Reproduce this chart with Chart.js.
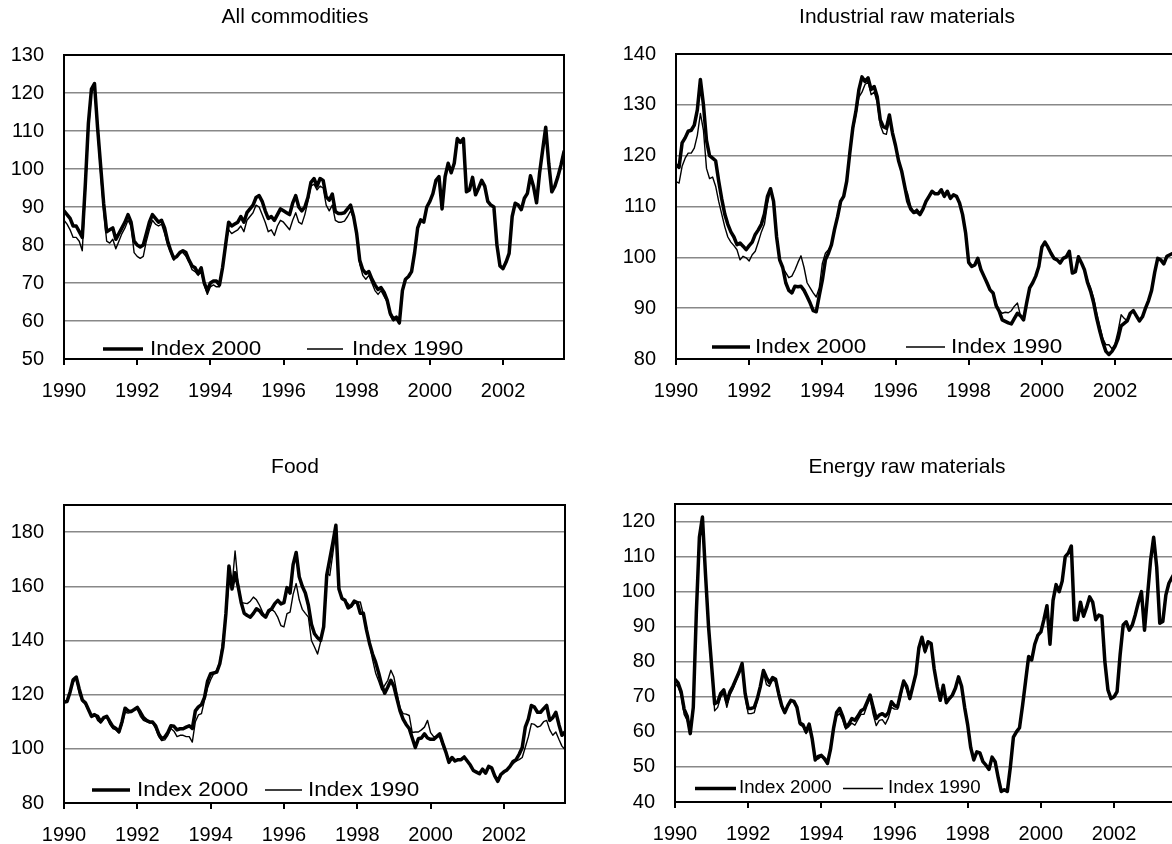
<!DOCTYPE html>
<html>
<head>
<meta charset="utf-8">
<script src="https://cdn.jsdelivr.net/npm/chart.js@4.4.1/dist/chart.umd.min.js"></script>
<style>
html,body{margin:0;padding:0;overflow:hidden;background:#fff;width:1172px;height:844px;}
canvas{position:absolute;}
</style>
</head>
<body>
<canvas id="c1" width="600" height="420" style="left:0px;top:0px"></canvas>
<canvas id="c2" width="640" height="420" style="left:590px;top:0px"></canvas>
<canvas id="c3" width="600" height="394" style="left:0px;top:450px"></canvas>
<canvas id="c4" width="640" height="394" style="left:590px;top:450px"></canvas>
<script>
// ---------- categories (monthly, Jan 1990 .. Sep 2003) ----------
const firstYear = 1990;
const monthCount = 165;
const months = Array.from({length: monthCount}, (_, i) => firstYear + i / 12);
const tickYears = [1990, 1992, 1994, 1996, 1998, 2000, 2002];
const tickLabels = ['1990', '1992', '1994', '1996', '1998', '2000', '2002'];
const seriesNames = ['Index 2000', 'Index 1990'];
const panelTitles = ['All commodities', 'Industrial raw materials', 'Food', 'Energy raw materials'];
const allTicksY = [50, 60, 70, 80, 90, 100, 110, 120, 130];
const industrialTicksY = [80, 90, 100, 110, 120, 130, 140];
const foodTicksY = [80, 100, 120, 140, 160, 180];
const energyTicksY = [40, 50, 60, 70, 80, 90, 100, 110, 120];

// ---------- All commodities ----------
const allIndex2000 = [
 89, 88, 87, 85, 85, 83.5, 82, 96, 112, 121, 122.5, 111,
 101, 91, 83.5, 84, 84.5, 81.5, 83, 84.5, 86, 88, 86, 81,
 80, 79.5, 80, 83, 86, 88, 87, 86, 86.5, 84.5, 81, 78.5,
 76.5, 77, 78, 78.5, 78, 76, 74.5, 74, 72.5, 74, 70, 68,
 70, 70.5, 70.5, 69.5, 74, 80, 86, 85, 85.5, 86, 87.5, 86,
 88.5, 89.5, 90.5, 92.5, 93, 91.5, 89, 87, 87.5, 86.5, 88, 89.5,
 89, 88.5, 88, 91, 93, 90, 89, 90, 92.5, 96.5, 97.5, 95.5,
 97.5, 97, 92.7, 91.8, 93.4, 88.8, 88.3, 88.3, 88.5, 89.5, 90.5, 87.5,
 83, 76, 73.5, 72.5, 73, 71, 69.5, 68.3, 68.8, 67.5, 65.5, 62,
 60.5, 61, 59.5, 68, 71, 71.7, 73, 78, 84.5, 86.6, 86, 90,
 91.5, 93.5, 97, 98, 89.5, 98, 101.5, 99, 101.5, 108, 107, 108,
 94, 94.5, 97.8, 93.2, 95, 97, 95.5, 91.5, 90.5, 90, 80, 74.5,
 73.8, 75.5, 77.8, 87.5, 91, 90.5, 89.3, 92.3, 93.6, 98.2, 95.4, 91.1,
 99, 105, 111, 101.5, 94, 95.5, 98, 101, 104.6
];
const allIndex1990 = [
 86.5, 85.5, 84, 82, 82, 81, 78.5, 94, 110, 120, 121.5, 110,
 99, 89, 81, 80.5, 81.5, 79, 81, 83, 84.5, 86.5, 85, 78,
 77, 76.5, 77, 81, 84, 86.5, 85.5, 85, 85.5, 83, 80, 78,
 76, 77, 78, 78, 77, 75.5, 73.5, 73, 72, 73, 69.5, 67,
 69, 69.5, 69, 69, 74, 80, 84, 83, 83.5, 84, 85, 83.5,
 86.5, 87.5, 88.5, 90.5, 90, 88, 86, 83.5, 84, 82.5, 85, 86.5,
 86, 85, 84, 86.5, 88.5, 86, 85.5, 88, 91.5, 95.5, 96, 94.5,
 95.5, 95, 90.5, 89, 90.5, 86.5, 86, 86, 86.3, 87.5, 89, 87,
 82.5, 75, 72, 71, 72, 70, 68, 67, 68, 66.5, 65, 61.5,
 60, 60.5, 59.3, 67.8, 70.8, 71.5, 72.8, 77.8, 84.3, 86.3, 86, 89.8,
 91.5, 93.5, 97, 98, 89.5, 98, 101.5, 99, 101.5, 108, 107, 108,
 94, 94.5, 97.8, 93.2, 95, 97, 95.5, 91.5, 90.5, 90, 80, 74.5,
 73.8, 75.5, 77.8, 87.5, 91, 90.5, 89.3, 92.3, 93.6, 98.2, 95.4, 91.1,
 99, 105, 111, 101.5, 94, 95.5, 98, 101, 104.6
];

// ---------- Industrial raw materials ----------
const industrialIndex2000 = [
 118.2, 117.7, 122.5, 123.5, 124.8, 125, 126, 129, 135, 130, 123, 120,
 119.5, 119, 115, 111.5, 108.5, 106.5, 105, 104, 102.5, 102.8, 102.2, 101.5,
 102.3, 103, 104.5, 105.4, 106.5, 108.5, 112, 113.5, 111, 104, 99.5, 98,
 95, 93.5, 93, 94.3, 94.2, 94.3, 93.5, 92.3, 91, 89.5, 89.3, 92.5,
 95.5, 99.5, 100.8, 102.5, 105.5, 108, 111, 112, 115, 120.5, 125.5, 128.7,
 133, 135.5, 134.6, 135.3, 133, 133.6, 131.6, 127, 125.7, 125.4, 128, 124.5,
 122, 119, 117, 114, 111, 109.5, 108.8, 109, 108.4, 109.5, 111, 112,
 113, 112.5, 112.5, 113.3, 112, 113, 111.6, 112.3, 112, 110.7, 108.4, 104.8,
 99, 98.2, 98.5, 99.8, 97.6, 96.3, 95, 93.6, 93, 90.5, 89.4, 87.7,
 87.4, 87.1, 86.9, 88, 89, 88.5, 87.7, 91, 94, 95, 96.3, 98.2,
 102, 103, 102, 100.8, 99.8, 99.5, 98.9, 99.8, 100.1, 101.2, 96.9, 97.2,
 100.1, 98.9, 97.5, 95, 93.3, 91, 88, 85.5, 83.3, 81.5, 80.9, 81.5,
 82.5, 84, 86.5, 87, 87.5, 89, 89.5, 88.5, 87.5, 88.3, 90, 91.5,
 93.5, 97, 99.8, 99.5, 98.7, 100.2, 100.5, 100.8, 101
];
const industrialIndex1990 = [
 114.9, 114.6, 117.9, 119.5, 120.5, 120.5, 121.5, 124, 128.3, 125, 117.5, 115.5,
 115.8, 114, 111, 108.5, 106, 104, 103, 102.3, 101.5, 99.5, 100.2, 99.9,
 99.3, 100.5, 101.2, 103, 105, 106.5, 110.5, 113.3, 111, 104, 99.5, 98,
 97, 96, 96.3, 97.5, 99, 100.3, 98, 95, 94, 93, 92.2, 94,
 98.8, 100.8, 101.5, 102.5, 105.5, 108, 111, 112, 115, 120.5, 125, 128,
 131.5, 132.5, 134, 134.5, 132, 132.5, 130.5, 126, 124.4, 124.2, 127, 124,
 122, 119, 117, 114, 112.5, 110, 109, 109.5, 108.8, 109.5, 111, 112,
 113, 112.5, 112.5, 113.3, 112, 113, 111.6, 112.3, 112, 110.7, 108.4, 104.8,
 99, 98.2, 98.5, 99.8, 97.6, 96.3, 95, 93.6, 93, 91, 89.6, 89,
 89.2, 89.1, 89.5, 90.4, 91, 88.5, 88.2, 91, 94, 95, 96.3, 98.2,
 102, 103, 102, 100.8, 99.8, 99.5, 98.9, 99.8, 100.1, 101.2, 96.9, 97.2,
 100.1, 98.9, 97.5, 95.5, 94, 92, 89, 86.5, 84, 82.8, 82.8, 82,
 83, 85.5, 88.7, 88, 87.5, 89, 89.5, 88.5, 87.5, 88.3, 90, 91.5,
 93.5, 97, 99.8, 99.5, 98.7, 100.2, 100.5, 100.8, 101
];

// ---------- Food ----------
const foodIndex2000 = [
 117.3, 117.5, 121, 125.5, 126.5, 122, 118, 117, 114.5, 112, 112.5, 112,
 110, 111.5, 112, 110, 108.2, 107.5, 106.3, 110, 115, 114, 113.8, 114.5,
 115.3, 113.5, 111.5, 110.5, 110, 109.9, 108.5, 105.5, 103.7, 104.4, 106, 108.5,
 108.3, 107, 107.4, 107.4, 108, 108.5, 107.5, 114, 115.5, 116.3, 119, 125,
 127.7, 128, 128.3, 131.4, 137.6, 149.9, 167.5, 159, 165, 160, 154, 150,
 149.2, 148.6, 150, 151.7, 151, 149.5, 148.6, 151, 151.7, 153.6, 154.8, 153.5,
 154, 159.5, 157.5, 168, 172.5, 163.5, 160, 157.5, 153, 146, 142.5, 141,
 140, 145, 164, 170, 176, 182.5, 159, 155.5, 154.8, 152, 152.7, 154.5,
 154, 150, 150, 144, 139, 135, 132, 128, 123.5, 120.5, 122.8, 125.3,
 123, 118.5, 114, 111, 109, 107.5, 104, 100.5, 103.7, 104, 105.5, 104,
 103.5, 103.5, 104.5, 105.5, 102, 98.8, 95, 96.8, 95.5, 96, 96, 97,
 95.5, 94, 92, 91.4, 90.8, 92.5, 91, 93.5, 93, 90, 88, 90.5,
 91.5, 92.2, 93.5, 95.3, 96, 98, 100.5, 108, 111, 116, 115.4, 113.5,
 113.5, 114.8, 116, 110.5, 111.5, 113.5, 109, 105, 106.2
];
const foodIndex1990 = [
 117, 117.3, 121, 124.5, 126, 120.5, 117.5, 116.5, 114, 112.5, 113, 110.5,
 109.5, 111, 112, 109, 107.5, 107, 105.8, 109, 113.5, 113.2, 113.5, 114.5,
 114.5, 112, 110.5, 110, 109.5, 109.5, 107.5, 104.5, 103, 103.3, 105, 107.5,
 106.5, 104.5, 105, 105, 104.5, 104.5, 102.5, 110, 112.5, 113, 118, 122.5,
 125.5, 127.7, 129, 132, 140, 150, 161, 160, 173, 161, 154, 153.8,
 153.6, 154.5, 156, 155, 153, 150.5, 148.6, 150.3, 151.5, 150.5, 148.5, 145.5,
 145, 149.9, 150.5, 157, 161, 155, 151.5, 150, 148.6, 140, 137.6, 135,
 139.5, 145, 165, 164, 172, 180.5, 160, 155.4, 154.5, 153.6, 152.3, 153.6,
 154.2, 154.2, 149.5, 145, 139, 133, 128, 125, 121.8, 123.5, 125.3, 129,
 126.5, 120.5, 115, 113, 112.8, 112.3, 106, 106.2, 106.2, 107, 108, 110.5,
 106, 104.5, 104.5, 104.4, 101, 98.8, 95, 96.8, 95.5, 96, 96, 97,
 95.5, 94, 92, 91.4, 90.8, 92.5, 91, 93.5, 93, 90, 88, 90.5,
 91.5, 92.2, 93.5, 94.5, 95.5, 96, 96.8, 100.6, 104.4, 109.3, 109, 108,
 108.5, 110, 110.5, 107, 105, 106.2, 103.5, 101, 99.7
];

// ---------- Energy raw materials ----------
const energyIndex2000 = [
 75, 74, 71.5, 66.5, 64.5, 59.5, 67, 94, 115.5, 121.3, 105, 90,
 79, 68, 68.5, 71, 72, 68.5, 71.4, 73, 75, 77, 79.5, 71,
 66.7, 66.7, 67, 69.5, 73, 77.5, 75.5, 74, 75.5, 75, 71, 67.5,
 65.5, 67.5, 69, 68.7, 67, 62.5, 62, 60, 62.2, 58, 52, 53,
 53.3, 52.4, 51, 55, 61, 65.5, 66.7, 64.5, 61.5, 62.2, 63.8, 63.3,
 64.5, 66, 66.5, 68.5, 70.5, 67, 63.8, 64.8, 65.2, 64.5, 65.5, 68.6,
 67.5, 67.1, 71, 74.5, 73, 69.5, 73, 76.5, 84, 87, 83, 85.7,
 85.2, 78, 73, 69, 73.3, 68.3, 69.5, 70.5, 72.5, 75.7, 73, 67,
 62, 55.5, 52, 54.3, 54, 51.5, 50.5, 49.3, 52.8, 51.5, 47, 43,
 43.5, 43, 50, 58.5, 60, 61.2, 67.5, 74.5, 81.5, 80.5, 85, 87.5,
 88.5, 92, 96, 85, 97.5, 102, 100, 103, 110, 111, 113, 92,
 92, 97, 93, 95.5, 98.5, 97, 92, 93.3, 93, 80, 72, 69.5,
 70, 71.5, 82, 90.5, 91.4, 89, 90.5, 93.5, 97, 100, 89, 99,
 109, 115.5, 107, 91, 91.5, 99, 102.4, 104, 105.5
];
const energyIndex1990 = [
 73.8, 72.8, 70.5, 65, 63.3, 59.5, 66.5, 93, 115, 120.8, 104.5, 89.5,
 78.5, 66, 67, 70, 71, 67, 70.5, 72.2, 74.5, 76.5, 79, 70,
 65.2, 65.2, 65.5, 69, 72.5, 77, 73.5, 73, 74.8, 74.3, 70, 67,
 65.3, 67.3, 68.7, 68.5, 66.7, 62, 61.5, 59.5, 61.8, 57.5, 52, 52.3,
 53, 52, 50.8, 54.5, 60.5, 64.5, 65.2, 63.5, 60.8, 61.5, 62.5, 61.9,
 63.5, 65, 65, 67.5, 69.5, 65, 61.8, 63.3, 63.5, 62.2, 64, 67,
 66.5, 66.5, 70, 74, 72, 69.2, 72.5, 76, 83.5, 86.5, 82.5, 85.2,
 85.2, 78, 73, 69, 73.3, 68.3, 69.5, 70.5, 72.5, 75.7, 73, 67,
 62, 55.5, 52, 54.3, 54, 51.5, 50.5, 49.3, 52.8, 51.5, 47, 43,
 43.5, 43, 50, 58.5, 60, 61.2, 67.5, 74.5, 81.5, 80.5, 85, 87.5,
 88.5, 92, 96, 85, 97.5, 102, 100, 103, 110, 111, 113, 92,
 92, 97, 93, 95.5, 98.5, 97, 92, 93.3, 93, 80, 72, 69.5,
 70, 71.5, 82, 90.5, 91.4, 89, 90.5, 93.5, 97, 100, 89, 99,
 109, 115.5, 107, 91, 91.5, 99, 102.4, 104, 105.5
];

// ---------- rendering ----------
const FONT = '"Liberation Sans", Arial, Helvetica, sans-serif';
Chart.defaults.font.family = FONT;

const framePlugin = {
  id: 'frame',
  beforeDatasetsDraw(chart) {
    const {ctx, chartArea: a} = chart;
    ctx.save();
    ctx.lineWidth = 2;
    ctx.strokeStyle = '#000';
    ctx.strokeRect(a.left, a.top, a.right - a.left, a.bottom - a.top);
    ctx.restore();
  }
};

const legendPlugin = {
  id: 'insideLegend',
  afterDraw(chart, args, opts) {
    const {ctx, chartArea: a} = chart;
    const y = a.bottom - opts.offsetY;
    ctx.save();
    opts.items.forEach((it, k) => {
      const ds = chart.data.datasets[k];
      ctx.beginPath();
      ctx.lineWidth = ds.borderWidth;
      ctx.strokeStyle = '#000';
      ctx.lineCap = 'butt';
      ctx.moveTo(a.left + it.x1, y);
      ctx.lineTo(a.left + it.x2, y);
      ctx.stroke();
      ctx.save();
      ctx.translate(a.left + it.tx, y);
      ctx.scale(opts.stretch, 1);
      ctx.font = opts.size + 'px ' + FONT;
      ctx.fillStyle = '#000';
      ctx.textBaseline = 'middle';
      ctx.textAlign = 'left';
      ctx.fillText(ds.label, 0, 0);
      ctx.restore();
    });
    ctx.restore();
  }
};

function makeChart(id, title, s2000, s1990, yMin, yMax, yTicks, lay, leg) {
  return new Chart(document.getElementById(id), {
    type: 'line',
    data: {
      labels: months,
      datasets: [
        {label: seriesNames[0], data: s2000, borderColor: '#000', borderWidth: 3.5,
         pointRadius: 0, tension: 0, fill: false, borderJoinStyle: 'round', borderCapStyle: 'round'},
        {label: seriesNames[1], data: s1990, borderColor: '#000', borderWidth: 1.4,
         pointRadius: 0, tension: 0, fill: false, borderJoinStyle: 'round'}
      ]
    },
    options: {
      responsive: false,
      animation: false,
      devicePixelRatio: 1,
      layout: {padding: {left: 0, right: lay.pr, top: 0, bottom: 0}},
      plugins: {
        legend: {display: false},
        tooltip: {enabled: false},
        title: {display: true, text: title, color: '#000',
                font: {family: FONT, size: 21, weight: 'normal'},
                padding: {top: 5, bottom: lay.tb}},
        insideLegend: leg
      },
      scales: {
        x: {
          type: 'linear', bounds: 'data',
          min: firstYear, max: months[months.length - 1],
          afterFit: s => { s.height = lay.xh; },
          ticks: {stepSize: 2, includeBounds: false, autoSkip: false, maxRotation: 0,
                  padding: 14, color: '#000', font: {family: FONT, size: 20},
                  callback: v => { const k = tickYears.indexOf(v); return k >= 0 ? tickLabels[k] : null; }},
          grid: {drawOnChartArea: false, drawTicks: true, tickLength: 6, color: '#000', lineWidth: 2},
          border: {display: false}
        },
        y: {
          type: 'linear', bounds: 'data',
          min: yMin, max: yMax,
          afterFit: s => { s.width = lay.yw; },
          ticks: {stepSize: yTicks[1] - yTicks[0], includeBounds: false, padding: 20, color: '#000',
                  font: {family: FONT, size: 20},
                  callback: v => yTicks.includes(v) ? String(v) : null},
          grid: {drawTicks: false, color: '#888888', lineWidth: 1.5},
          border: {display: false}
        },
        spacer: {
          type: 'linear', position: 'right', display: true,
          afterFit: s => { s.width = lay.rs; },
          ticks: {display: false},
          grid: {display: false, drawTicks: false},
          border: {display: false}
        }
      }
    },
    plugins: [framePlugin, legendPlugin]
  });
}

makeChart('c1', panelTitles[0], allIndex2000, allIndex1990, 50, 130, allTicksY,
  {yw: 64, pr: 10, rs: 26, xh: 61, tb: 24.8},
  {offsetY: 10, size: 21, stretch: 1.07, items: [{x1: 39, x2: 79, tx: 86}, {x1: 243, x2: 279, tx: 288}]});

makeChart('c2', panelTitles[1], industrialIndex2000, industrialIndex1990, 80, 140, industrialTicksY,
  {yw: 86, pr: 6, rs: 48, xh: 61, tb: 23.8},
  {offsetY: 12, size: 21, stretch: 1.07, items: [{x1: 36, x2: 74, tx: 79}, {x1: 230, x2: 269, tx: 275}]});

makeChart('c3', panelTitles[2], foodIndex2000, foodIndex1990, 80, 190, foodTicksY,
  {yw: 64, pr: 10, rs: 25, xh: 41, tb: 24.8},
  {offsetY: 13, size: 21, stretch: 1.07, items: [{x1: 28, x2: 66, tx: 73}, {x1: 201, x2: 238, tx: 244}]});

makeChart('c4', panelTitles[3], energyIndex2000, energyIndex1990, 40, 125, energyTicksY,
  {yw: 85, pr: 6, rs: 49, xh: 42, tb: 23.8},
  {offsetY: 13.5, size: 18, stretch: 1.04, items: [{x1: 20, x2: 61, tx: 64}, {x1: 168, x2: 208, tx: 213}]});
</script>
</body>
</html>
